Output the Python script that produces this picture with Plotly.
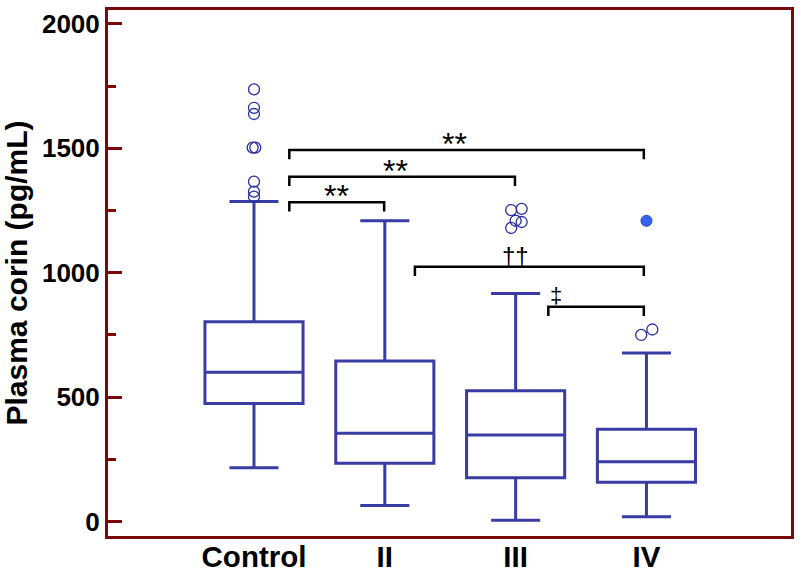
import plotly.graph_objects as go

# ---- data ----
groups = ["Control", "II", "III", "IV"]
lower_whisker = [216, 65, 5, 19]
q1 = [475, 234, 176, 158]
median = [600, 355, 348, 240]
q3 = [803, 645, 526, 371]
upper_whisker = [1286, 1209, 917, 677]

# open-circle outliers: group index, value, small horizontal offset as drawn
outlier_group = [0, 0, 0, 0, 0, 0, 0, 0, 2, 2, 2, 2, 2, 3, 3]
outlier_value = [1737, 1663, 1638, 1503, 1503, 1366, 1326, 1306,
                 1252, 1257, 1209, 1204, 1180, 750, 772]
outlier_offset = [0, 0, 0, -0.01, 0.01, 0, 0, 0,
                  -0.034, 0.046, 0, 0.046, -0.034, -0.04, 0.045]

# filled extreme point
extreme_group = [3]
extreme_value = [1209]

# significance brackets: start, end (category units), level, label, label x
cmp_start = [0.27, 0.27, 0.27, 1.23, 2.25]
cmp_end = [0.995, 1.995, 2.98, 2.98, 2.98]
cmp_level = [1283, 1386, 1493, 1024, 863]
cmp_label = ["**", "**", "**", "††", "‡"]
cmp_label_x = [0.63, 1.08, 1.53, 2.0, 2.31]
cmp_drop = 37

BOX_COLOR = "#3a3ca3"
AXIS_COLOR = "#7a0a0a"
FONT = "Liberation Sans, Arial"

fig = go.Figure()

for i, g in enumerate(groups):
    fig.add_trace(go.Box(
        x=[i], q1=[q1[i]], median=[median[i]], q3=[q3[i]],
        lowerfence=[lower_whisker[i]], upperfence=[upper_whisker[i]],
        width=0.75, whiskerwidth=0.5,
        line=dict(color=BOX_COLOR, width=3),
        fillcolor="rgba(255,255,255,0)",
        boxpoints=False, showlegend=False, hoverinfo="skip",
    ))

fig.add_trace(go.Scatter(
    x=[g + o for g, o in zip(outlier_group, outlier_offset)],
    y=outlier_value, mode="markers",
    marker=dict(symbol="circle-open", size=11, color="#2b2f9e",
                line=dict(width=1.3, color="#2b2f9e")),
    showlegend=False, hoverinfo="skip",
))
fig.add_trace(go.Scatter(
    x=extreme_group, y=extreme_value, mode="markers",
    marker=dict(symbol="circle", size=11, color="#3563f2",
                line=dict(width=1, color="#2a45c0")),
    showlegend=False, hoverinfo="skip",
))

for x0, x1, yl, lab, lx in zip(cmp_start, cmp_end, cmp_level, cmp_label, cmp_label_x):
    fig.add_shape(type="path", xref="x", yref="y",
                  path=f"M {x0} {yl - cmp_drop} L {x0} {yl} L {x1} {yl} L {x1} {yl - cmp_drop}",
                  line=dict(color="black", width=2.5))
    if lab == "**":
        size, shift = 32, -14
    elif lab == "††":
        size, shift = 24, -4
    else:
        size, shift = 22, -3
    fig.add_annotation(x=lx, y=yl, xref="x", yref="y", text=lab,
                       showarrow=False, yanchor="bottom", yshift=shift,
                       font=dict(family=FONT, size=size, color="black"))

fig.update_layout(
    width=800, height=578,
    margin=dict(l=108, r=9, t=10, b=42),
    paper_bgcolor="white", plot_bgcolor="white",
    font=dict(family=FONT, color="black"),
)
fig.update_xaxes(
    range=[-1.116, 4.105], tickvals=list(range(len(groups))), ticktext=groups,
    showgrid=False, zeroline=False, ticks="", automargin=False,
    ticklabelstandoff=-7,
    showline=True, mirror=True, linecolor=AXIS_COLOR, linewidth=3,
    tickfont=dict(size=29.5, family=FONT, weight="bold"),
)
fig.update_yaxes(
    range=[-58, 2056], tickvals=[0, 500, 1000, 1500, 2000],
    showgrid=False, zeroline=False, automargin=False,
    ticks="inside", ticklen=14, tickwidth=2.5, tickcolor=AXIS_COLOR,
    minor=dict(dtick=250, ticks="inside", ticklen=8, tickwidth=2.5, tickcolor=AXIS_COLOR),
    showline=True, mirror=True, linecolor=AXIS_COLOR, linewidth=3,
    tickfont=dict(size=26, family=FONT, weight="bold"),
    title=dict(text="Plasma corin (pg/mL)", standoff=10,
               font=dict(size=30, family=FONT, weight="bold")),
)

fig.write_html("out.html", config={"displayModeBar": False},
               post_script="document.body.style.margin='0';document.body.style.overflow='hidden';")
